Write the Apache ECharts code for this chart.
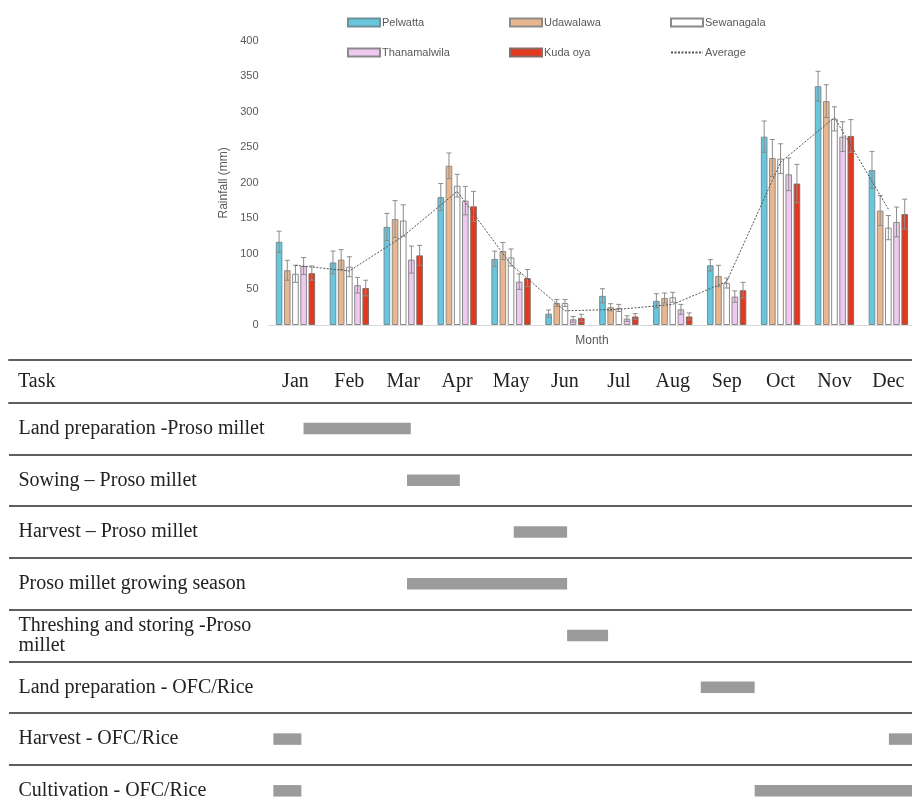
<!DOCTYPE html>
<html><head><meta charset="utf-8">
<script src="https://cdn.jsdelivr.net/npm/echarts@6/dist/echarts.min.js"></script>
<style>html,body{margin:0;padding:0;background:#fff}#c{width:912px;height:802px}</style>
</head><body><div id="c"></div>
<script>
// ---------- data ----------
const months = ['Jan','Feb','Mar','Apr','May','Jun','Jul','Aug','Sep','Oct','Nov','Dec'];
const yTicks = [0, 400, 50]; // min, max, interval

const pelwatta        = [117, 88, 138, 180, 93, 16, 41, 34, 84, 265, 336, 218];
const pelwattaErr     = [15, 16, 19, 19, 11, 5, 10, 10, 8, 22, 21, 26];
const udawalawa       = [77, 92, 149, 224, 104, 31, 25, 38, 69, 235, 315, 161];
const udawalawaErr    = [14, 14, 26, 18, 12, 5, 5, 7, 15, 26, 23, 21];
const sewanagala      = [72, 82, 147, 196, 95, 31, 24, 39, 59, 234, 290, 137];
const sewanagalaErr   = [12, 14, 22, 16, 12, 5, 5, 7, 7, 21, 17, 17];
const thanamalwila    = [83, 56, 92, 175, 61, 8, 9, 22, 40, 212, 265, 145];
const thanamalwilaErr = [12, 11, 19, 20, 11, 4, 4, 7, 8, 23, 21, 21];
const kudaOya         = [73, 52, 98, 167, 66, 10, 12, 12, 49, 199, 266, 156];
const kudaOyaErr      = [10, 11, 14, 21, 12, 5, 4, 5, 11, 27, 23, 21];
const average         = [84, 76, 125, 188, 85, 20, 22, 29, 61, 229, 292, 163];

const tasks = [
  'Land preparation -Proso millet',
  'Sowing \u2013 Proso millet',
  'Harvest \u2013 Proso millet',
  'Proso millet growing season',
  'Threshing and storing -Proso millet',
  'Land preparation - OFC/Rice',
  'Harvest - OFC/Rice',
  'Cultivation - OFC/Rice'
];
// task activity periods (month units, 0 = start of Jan)
const ganttTask  = [0, 1, 2, 3, 4, 5, 6, 6, 7, 7];
const ganttStart = [0.65, 2.57, 4.55, 2.57, 5.54, 8.02, 0.09, 11.51, 0.09, 9.02];
const ganttEnd   = [2.64, 3.55, 5.54, 5.54, 6.30, 9.02, 0.61, 12.0, 0.61, 12.0];

// ---------- styles ----------
const stations = [
  {name:'Pelwatta',     vals:pelwatta,     err:pelwattaErr,     color:'#68c6dd', border:'#6f8f99'},
  {name:'Udawalawa',    vals:udawalawa,    err:udawalawaErr,    color:'#e9b78f', border:'#8f8a85'},
  {name:'Sewanagala',   vals:sewanagala,   err:sewanagalaErr,   color:'#ffffff', border:'#8a8a8a'},
  {name:'Thanamalwila', vals:thanamalwila, err:thanamalwilaErr, color:'#f0c9f0', border:'#8a8a8a'},
  {name:'Kuda oya',     vals:kudaOya,      err:kudaOyaErr,      color:'#e2381d', border:'#8a6a66'}
];
const BAR_W = 6.6, BAR_GAP = 0.24;
const GL = 268.5, GW = 646.8;
const SANS = '"Liberation Sans", Arial, sans-serif';
const SERIF = '"Liberation Serif", "Times New Roman", serif';

const series = [];
stations.forEach((s, k) => {
  series.push({
    type:'bar', name:s.name, xAxisIndex:0, yAxisIndex:0,
    data:s.vals, barWidth:BAR_W, barGap:(BAR_GAP*100)+'%',
    itemStyle:{color:s.color, borderColor:s.border, borderWidth:1},
    emphasis:{disabled:true}
  });
});
stations.forEach((s, k) => {
  series.push({
    type:'custom', name:s.name + ' err', xAxisIndex:0, yAxisIndex:0, z:5,
    data:s.vals.map((v,i)=>[i, v, s.err[i]]),
    encode:{x:0, y:1},
    renderItem:function(params, api){
      const i = api.value(0), v = api.value(1), e = api.value(2);
      const hi = api.coord([i, v + e]);
      const lo = api.coord([i, v - e]);
      const x = hi[0] + (k - 2) * BAR_W * (1 + BAR_GAP);
      const st = {stroke:'#8c8c8c', lineWidth:1};
      return {type:'group', children:[
        {type:'line', shape:{x1:x, y1:hi[1], x2:x, y2:lo[1]}, style:st},
        {type:'line', shape:{x1:x-2.5, y1:hi[1], x2:x+2.5, y2:hi[1]}, style:st},
        {type:'line', shape:{x1:x-2.5, y1:lo[1], x2:x+2.5, y2:lo[1]}, style:st}
      ]};
    }
  });
});
series.push({
  type:'line', name:'Average', xAxisIndex:0, yAxisIndex:0, z:6,
  data:average, symbol:'none',
  lineStyle:{color:'#555555', width:1, type:[2,1.5]},
  itemStyle:{color:'#555555'}
});
series.push({
  type:'custom', name:'gantt', xAxisIndex:1, yAxisIndex:1,
  data:ganttTask.map((t,i)=>[t, ganttStart[i], ganttEnd[i]]),
  encode:{x:[1,2], y:0},
  renderItem:function(params, api){
    const a = api.coord([api.value(1), api.value(0)]);
    const b = api.coord([api.value(2), api.value(0)]);
    const h = 11.5;
    return {type:'rect', shape:{x:a[0], y:a[1]-h/2, width:b[0]-a[0], height:h},
            style:{fill:'#9b9b9b'}};
  }
});

const legendBase = {orient:'vertical', itemWidth:32, itemHeight:8, itemGap:19, padding:0,
  textStyle:{fontFamily:SANS, fontSize:11, color:'#595959', padding:[0,0,0,-3]}};

const option = {
  backgroundColor:'#ffffff',
  animation:false,
  title:{text:'Task', left:18, top:372, padding:0,
    textStyle:{fontFamily:SERIF, fontSize:20, fontWeight:'normal', color:'#222'}},
  legend:[
    Object.assign({}, legendBase, {icon:'rect', data:['Pelwatta','Thanamalwila'], left:347, top:17}),
    Object.assign({}, legendBase, {icon:'rect', data:['Udawalawa','Kuda oya'], left:509, top:17}),
    Object.assign({}, legendBase, {data:[{name:'Sewanagala', icon:'rect'},
        {name:'Average', itemStyle:{opacity:0}}], left:670, top:17})
  ],
  grid:[
    {left:GL, width:GW, top:40.7, height:284.3, outerBoundsMode:'none'},
    {left:GL, width:GW, top:402.7, height:414, outerBoundsMode:'none'},
    {left:9, width:910, top:402.7, height:414, outerBoundsMode:'none'}
  ],
  xAxis:[
    {type:'category', gridIndex:0, data:months,
     axisLine:{lineStyle:{color:'#d9d9d9'}}, axisTick:{show:false}, axisLabel:{show:false},
     name:'Month', nameLocation:'middle', nameGap:10,
     nameTextStyle:{fontFamily:SANS, fontSize:12, color:'#595959'}},
    {type:'value', gridIndex:1, min:0, max:12, show:false},
    {type:'category', gridIndex:1, data:months, position:'top',
     axisLine:{show:false}, axisTick:{show:false},
     axisLabel:{fontFamily:SERIF, fontSize:20, color:'#222', margin:11, interval:0}},
    {type:'value', gridIndex:2, position:'top', min:0, max:1,
     axisLine:{show:true, onZero:false, lineStyle:{color:'#5f5f5f', width:2}},
     axisTick:{show:false}, axisLabel:{show:false}, splitLine:{show:false}},
    {type:'value', gridIndex:2, position:'top', offset:42.7, min:0, max:1,
     axisLine:{show:true, onZero:false, lineStyle:{color:'#5f5f5f', width:2}},
     axisTick:{show:false}, axisLabel:{show:false}, splitLine:{show:false}}
  ],
  yAxis:[
    {type:'value', gridIndex:0, min:yTicks[0], max:yTicks[1], interval:yTicks[2],
     axisLine:{show:false}, axisTick:{show:false}, splitLine:{show:false},
     axisLabel:{fontFamily:SANS, fontSize:11, color:'#595959', margin:10},
     name:'Rainfall (mm)', nameLocation:'middle', nameGap:38, nameRotate:90,
     nameTextStyle:{fontFamily:SANS, fontSize:12, color:'#595959'}},
    {type:'category', gridIndex:1, data:tasks, inverse:true,
     axisLine:{show:false}, axisTick:{show:false}, splitLine:{show:false},
     axisLabel:{fontFamily:SERIF, fontSize:20, color:'#222', align:'left', margin:250,
       width:258, overflow:'break', lineHeight:20, interval:0}},
    {type:'category', gridIndex:2, data:tasks, inverse:true,
     axisLine:{show:false}, axisTick:{show:false}, axisLabel:{show:false},
     splitLine:{show:true, interval:0, lineStyle:{color:'#5f5f5f', width:2}}}
  ],
  series:series
};
const chart = echarts.init(document.getElementById('c'));
chart.setOption(option);
</script>
</body></html>
